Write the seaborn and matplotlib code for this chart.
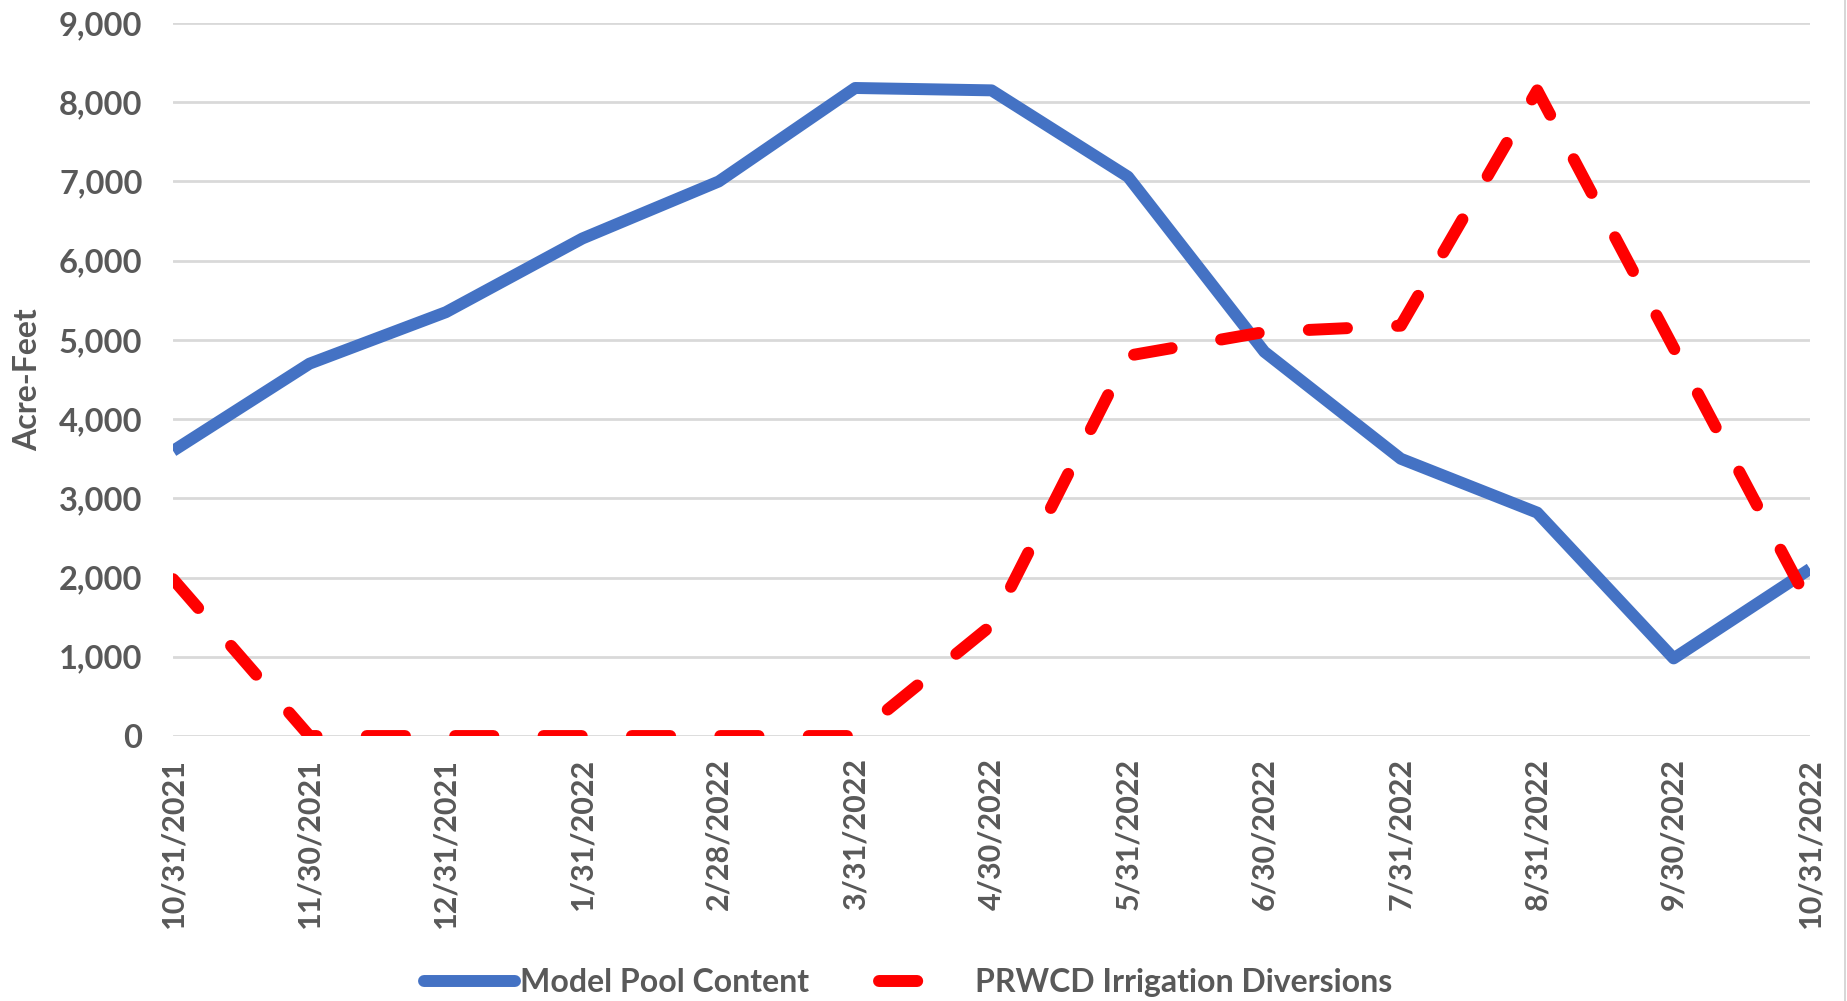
import numpy as np
import pandas as pd
import matplotlib
matplotlib.use("Agg")
import matplotlib.pyplot as plt
from matplotlib.lines import Line2D
import seaborn as sns

# dates on the x axis (month ends)
dates = ["10/31/2021", "11/30/2021", "12/31/2021", "1/31/2022", "2/28/2022",
         "3/31/2022", "4/30/2022", "5/31/2022", "6/30/2022", "7/31/2022",
         "8/31/2022", "9/30/2022", "10/31/2022"]

# acre-feet values
pool_content = [3600, 4700, 5350, 6280, 7000, 8180, 8150, 7060, 4850, 3500, 2820, 980, 2110]
diversions = [1980, 0, 0, 0, 0, 0, 1400, 4800, 5100, 5180, 8150, 4900, 1650]

yticks = [0, 1000, 2000, 3000, 4000, 5000, 6000, 7000, 8000, 9000]

df = pd.DataFrame({"pos": np.arange(len(dates)), "date": dates,
                   "Model Pool Content": pool_content,
                   "PRWCD Irrigation Diversions": diversions})

sns.set_style("white")
plt.rcParams["font.family"] = ["Lato", "DejaVu Sans"]
text_col = "#595959"
blue = "#4472C4"
red = "#FF0000"

fig = plt.figure(figsize=(18.47, 10.01), dpi=100)
ax = fig.add_axes([0.0937, 0.2647, 0.98 - 0.0937, 0.977 - 0.2647])

sns.lineplot(data=df, x="pos", y="Model Pool Content", ax=ax, color=blue,
             linewidth=8.6, solid_capstyle="butt", solid_joinstyle="round")
sns.lineplot(data=df, x="pos", y="PRWCD Irrigation Diversions", ax=ax, color=red,
             linewidth=8.6)
# dashed red line with rounded dash ends
ax.lines[1].set_dashes((3.2, 4.2))
ax.lines[1].set_dash_capstyle("round")

ax.set_xlim(0, len(dates) - 1)
ax.set_ylim(0, 9000)
ax.set_yticks(yticks)
ax.set_yticklabels([f"{v:,}" for v in yticks])
ax.set_xticks(np.arange(len(dates)))
ax.set_xticklabels(dates, rotation=90)
ax.tick_params(axis="x", length=0, labelsize=22, labelcolor=text_col, pad=16)
ax.tick_params(axis="y", length=0, labelsize=23.5, labelcolor=text_col, pad=22)
for lab in ax.get_xticklabels() + ax.get_yticklabels():
    lab.set_fontweight("bold")

ax.grid(axis="y", color="#D9D9D9", linewidth=2)
ax.set_axisbelow(True)
for s in ax.spines.values():
    s.set_visible(False)

ax.set_xlabel("")
ax.set_ylabel("Acre-Feet", fontsize=23, color=text_col, fontweight="bold")
ax.yaxis.set_label_coords(-0.08, 0.5)

# legend: red handle shows a single dash like the original
handles = [Line2D([], [], color=blue, linewidth=8.6, solid_capstyle="round"),
           Line2D([], [], color=red, linewidth=8.6, dashes=(3.2, 8), dash_capstyle="round")]
labels = ["Model Pool Content", "PRWCD Irrigation Diversions"]
leg = fig.legend(handles, labels, loc="center", bbox_to_anchor=(0.4917, 0.018), ncol=2,
                 frameon=False, fontsize=23, handlelength=2.85, handletextpad=0.15,
                 columnspacing=2.2)
for t in leg.get_texts():
    t.set_color(text_col)
    t.set_fontweight("bold")

# thin chart-area border visible at the right edge
fig.add_artist(Line2D([0.9989, 0.9989], [0, 1], transform=fig.transFigure,
                      color="#D0D0D0", linewidth=1.2))

fig.savefig("out.png", dpi=100)
